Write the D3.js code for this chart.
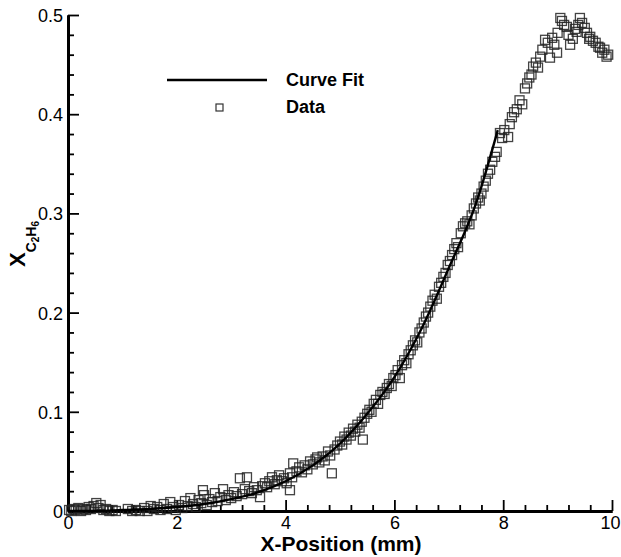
<!DOCTYPE html>
<html>
<head>
<meta charset="utf-8">
<script src="https://cdn.jsdelivr.net/npm/d3@7"></script>
<style>
  html, body { margin: 0; padding: 0; background: #fff; }
  svg { display: block; font-family: "Liberation Sans", Arial, sans-serif; }
</style>
</head>
<body>
<svg class="canvas"></svg>
<script>
var width = 621
var height = 557

// curve fit
var fitX = [0, 0.5, 1, 1.5, 2, 2.5, 3, 3.5, 4, 4.5, 5, 5.5, 6, 6.5, 7, 7.5, 7.9]
var fitY = [0, 0, 0.001, 0.002, 0.004, 0.007, 0.012, 0.019, 0.03, 0.046, 0.068, 0.098, 0.135, 0.184, 0.245, 0.31, 0.384]

// measured points
var dataX = [
  0.02, 0.06, 0.1, 0.14, 0.19, 0.24, 0.28, 0.33, 0.38, 0.42, 0.47, 0.52, 0.56, 0.6, 0.65, 0.7, 0.76, 0.82, 0.88,
  1.1, 1.18, 1.25, 1.32, 1.4, 1.46, 1.52, 1.58, 1.64, 1.7, 1.76, 1.82, 1.88, 1.93, 1.98,
  2.04, 2.1, 2.15, 2.2, 2.25, 2.3, 2.35, 2.4, 2.45, 2.48, 2.5, 2.55, 2.6, 2.65, 2.7, 2.75, 2.8, 2.85, 2.9, 2.95,
  3.0, 3.05, 3.1, 3.16, 3.2, 3.25, 3.29, 3.33, 3.38, 3.42, 3.47, 3.53, 3.57, 3.62, 3.66, 3.7, 3.75, 3.8, 3.84, 3.88, 3.93, 3.97,
  4.02, 4.08, 4.08, 4.12, 4.14, 4.2, 4.25, 4.3, 4.35, 4.4, 4.45, 4.5, 4.55, 4.58, 4.62, 4.68, 4.72, 4.78, 4.82, 4.85, 4.9, 4.95,
  5.0, 5.04, 5.08, 5.12, 5.16, 5.2, 5.24, 5.28, 5.32, 5.36, 5.4, 5.42, 5.45, 5.5, 5.54, 5.58, 5.62, 5.66, 5.7, 5.74, 5.78, 5.82, 5.86, 5.9, 5.95, 5.98,
  6.02, 6.06, 6.1, 6.14, 6.18, 6.22, 6.26, 6.3, 6.34, 6.38, 6.42, 6.46, 6.5, 6.54, 6.58, 6.62, 6.66, 6.7, 6.74, 6.78, 6.82, 6.86, 6.9, 6.94, 6.98,
  7.02, 7.06, 7.1, 7.14, 7.17, 7.22, 7.26, 7.3, 7.34, 7.38, 7.42, 7.46, 7.5, 7.54, 7.57, 7.6, 7.64, 7.68, 7.72, 7.76, 7.8, 7.85, 7.88, 7.94, 7.98,
  8.02, 8.09, 8.12, 8.16, 8.2, 8.25, 8.3, 8.35, 8.4, 8.44, 8.48, 8.52, 8.55, 8.6, 8.64, 8.68, 8.72, 8.77, 8.82, 8.86, 8.9, 8.94, 8.99,
  9.0, 9.05, 9.08, 9.12, 9.17, 9.2, 9.23, 9.28, 9.32, 9.35, 9.38, 9.41, 9.45, 9.5, 9.54, 9.58, 9.6, 9.65, 9.7, 9.75, 9.78, 9.82, 9.86, 9.9, 9.93
]
var dataY = [
  0.001, 0, 0.002, 0.001, 0.003, 0, 0.002, 0.001, 0.004, 0.002, 0.005, 0.008, 0.003, 0.006, 0.001, 0.002, 0, 0.001, 0,
  0.002, 0, 0.001, 0, 0.003, 0, 0.005, 0.002, 0.004, 0.001, 0.007, 0.002, 0.009, 0.004, 0.001,
  0.006, 0.003, 0.01, 0.005, 0.013, 0.007, 0.004, 0.011, 0.008, 0.021, 0.016, 0.006, 0.012, 0.009, 0.018, 0.01, 0.014, 0.022, 0.011, 0.016,
  0.013, 0.019, 0.015, 0.033, 0.017, 0.022, 0.034, 0.02, 0.018, 0.024, 0.021, 0.014, 0.025, 0.028, 0.024, 0.03, 0.034, 0.027, 0.031, 0.036, 0.03, 0.033,
  0.028, 0.021, 0.038, 0.034, 0.048, 0.04, 0.044, 0.039, 0.046, 0.042, 0.05, 0.047, 0.052, 0.054, 0.049, 0.055, 0.051, 0.06, 0.056, 0.038, 0.062, 0.066,
  0.07, 0.067, 0.075, 0.072, 0.079, 0.076, 0.083, 0.08, 0.087, 0.084, 0.09, 0.072, 0.094, 0.098, 0.102, 0.1, 0.108, 0.112, 0.108, 0.117, 0.12, 0.118, 0.124, 0.128, 0.126, 0.134,
  0.137, 0.142, 0.134, 0.147, 0.152, 0.149, 0.158, 0.162, 0.167, 0.172, 0.17, 0.18, 0.184, 0.19, 0.196, 0.2, 0.206, 0.212, 0.218, 0.214, 0.226, 0.23, 0.236, 0.24, 0.248,
  0.252, 0.258, 0.264, 0.27, 0.266, 0.28, 0.287, 0.29, 0.292, 0.289, 0.298, 0.305, 0.31, 0.316, 0.313, 0.32, 0.327, 0.333, 0.34, 0.344, 0.352, 0.357, 0.362, 0.381, 0.376,
  0.384, 0.377, 0.39, 0.397, 0.402, 0.405, 0.414, 0.41, 0.426, 0.431, 0.437, 0.44, 0.448, 0.452, 0.447, 0.458, 0.465, 0.475, 0.472, 0.457, 0.477, 0.47, 0.462,
  0.482, 0.497, 0.494, 0.49, 0.488, 0.48, 0.47, 0.476, 0.486, 0.483, 0.49, 0.497, 0.492, 0.487, 0.482, 0.476, 0.478, 0.474, 0.472, 0.468, 0.467, 0.462, 0.465, 0.458, 0.46
]

var xMajor = [0, 2, 4, 6, 8, 10]
var yMajor = [0, 0.1, 0.2, 0.3, 0.4, 0.5]
var xMinor = d3.range(0, 10.001, 0.4).filter(v => Math.abs(v / 2 - Math.round(v / 2)) > 1e-6)
var yMinor = d3.range(0, 0.5001, 0.02).filter(v => Math.abs(v * 10 - Math.round(v * 10)) > 1e-6)

var svg = d3.select('.canvas')
    .attr('width', width)
    .attr('height', height)

var x = d3.scaleLinear().domain([0, 10]).range([68, 612])
var y = d3.scaleLinear().domain([0, 0.5]).range([511, 15])

function styleAxis(g) {
    g.select('.domain').attr('stroke', '#000').attr('stroke-width', 3)
    g.selectAll('.tick line').attr('stroke', '#000').attr('stroke-width', 1.8)
    g.selectAll('.tick text').attr('fill', '#000')
        .style('font-family', '"Liberation Sans", Arial, sans-serif')
        .style('font-size', '18px')
}

// x axis, ticks pointing up into the plot
svg.append('g')
    .attr('transform', 'translate(0,' + y(0) + ')')
    .call(d3.axisBottom(x).tickValues(xMinor).tickSize(-6).tickSizeOuter(0).tickFormat(''))
    .call(styleAxis)
svg.append('g')
    .attr('transform', 'translate(0,' + y(0) + ')')
    .call(d3.axisBottom(x).tickValues(xMajor).tickSize(-11).tickSizeOuter(0).tickFormat(d3.format('d')))
    .call(styleAxis)
    .call(g => g.selectAll('.tick text').attr('y', 18).attr('dy', 0)
        .attr('dx', d => d === 10 ? -2 : 0))

// y axis, ticks pointing right
svg.append('g')
    .attr('transform', 'translate(' + x(0) + ',0)')
    .call(d3.axisLeft(y).tickValues(yMinor).tickSize(-6).tickSizeOuter(0).tickFormat(''))
    .call(styleAxis)
svg.append('g')
    .attr('transform', 'translate(' + x(0) + ',0)')
    .call(d3.axisLeft(y).tickValues(yMajor).tickSize(-11).tickSizeOuter(0).tickFormat(d => d === 0 ? '0' : d3.format('.1f')(d)))
    .call(styleAxis)
    .call(g => g.selectAll('.tick text').attr('x', -5).attr('dy', '0.36em'))

// data squares
var s = 9
svg.append('g')
    .selectAll('rect')
    .data(dataX.map((v, i) => [v, dataY[i]]))
    .enter().append('rect')
    .attr('x', d => x(d[0]) - s / 2)
    .attr('y', d => y(d[1]) - s / 2)
    .attr('width', s)
    .attr('height', s)
    .attr('fill', 'none')
    .attr('stroke', '#222')
    .attr('stroke-opacity', 0.85)
    .attr('stroke-width', 1.3)

// fit line
var line = d3.line()
    .x(d => x(d[0]))
    .y(d => y(d[1]))
    .curve(d3.curveMonotoneX)
svg.append('path')
    .datum(fitX.map((v, i) => [v, fitY[i]]))
    .attr('d', line)
    .attr('fill', 'none')
    .attr('stroke', '#000')
    .attr('stroke-width', 2.4)

// legend
var lg = svg.append('g')
lg.append('line')
    .attr('x1', 167).attr('x2', 267)
    .attr('y1', 80).attr('y2', 80)
    .attr('stroke', '#000').attr('stroke-width', 2.4)
lg.append('rect')
    .attr('x', 216).attr('y', 104)
    .attr('width', 7).attr('height', 7)
    .attr('fill', 'none').attr('stroke', '#333').attr('stroke-width', 1.2)
lg.append('text')
    .attr('x', 286).attr('y', 86)
    .style('font-size', '18px').style('font-weight', 'bold')
    .text('Curve Fit')
lg.append('text')
    .attr('x', 286).attr('y', 113)
    .style('font-size', '18px').style('font-weight', 'bold')
    .text('Data')

// axis titles
svg.append('text')
    .attr('x', 341).attr('y', 551)
    .attr('text-anchor', 'middle')
    .style('font-size', '21px').style('font-weight', 'bold')
    .text('X-Position (mm)')

var yt = svg.append('text')
    .attr('transform', 'translate(25,244) rotate(-90)')
    .attr('text-anchor', 'middle')
    .style('font-weight', 'bold')
yt.append('tspan').style('font-size', '22px').text('X')
yt.append('tspan').style('font-size', '14px').attr('dy', 11).text('C')
yt.append('tspan').style('font-size', '10px').attr('dy', 3).text('2')
yt.append('tspan').style('font-size', '14px').attr('dy', -3).text('H')
yt.append('tspan').style('font-size', '10px').attr('dy', 3).text('6')
</script>
</body>
</html>
